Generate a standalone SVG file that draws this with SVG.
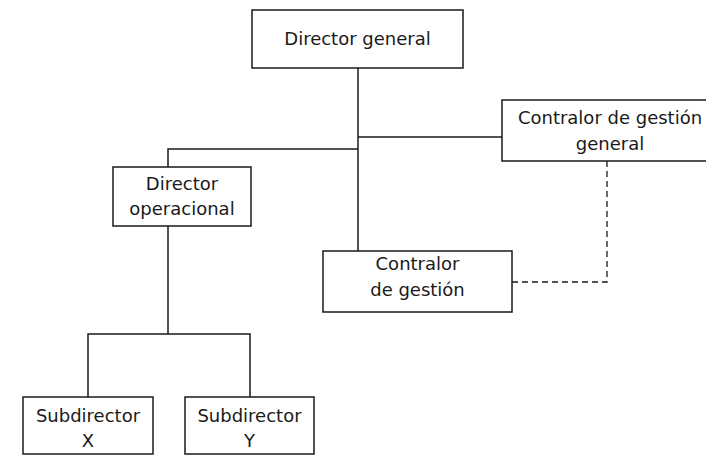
<svg xmlns="http://www.w3.org/2000/svg" width="706" height="459" viewBox="0 0 706 459">
<style>
.box{fill:#fff;stroke:#1a1a1a;stroke-width:1.5}
.ln{fill:none;stroke:#1a1a1a;stroke-width:1.5}
.dash{fill:none;stroke:#1a1a1a;stroke-width:1.3;stroke-dasharray:6 4}
text{font-family:"DejaVu Sans","Liberation Sans",sans-serif;font-size:18px;fill:#1a1a1a;text-anchor:middle}
</style>
<rect width="706" height="459" fill="#fff"/>
<g id="connectors">
<path class="ln" d="M358,68 V251"/>
<path class="ln" d="M358,137 H502"/>
<path class="ln" d="M358,149 H168 V167"/>
<path class="ln" d="M168,226 V334"/>
<path class="ln" d="M88,397 V334 H250 V397"/>
<path class="dash" d="M512,282 H607 V161"/>
</g>
<g id="director-general">
<rect class="box" x="252" y="10" width="211" height="58"/>
<text x="357.5" y="45">Director general</text>
</g>
<g id="contralor-general">
<rect class="box" x="502" y="100" width="216" height="61"/>
<text x="610" y="124">Contralor de gestión</text>
<text x="610" y="150">general</text>
</g>
<g id="director-operacional">
<rect class="box" x="113" y="167" width="138" height="59"/>
<text x="182" y="190">Director</text>
<text x="182" y="215">operacional</text>
</g>
<g id="contralor-gestion">
<rect class="box" x="323" y="251" width="189" height="61"/>
<text x="417.5" y="270">Contralor</text>
<text x="417.5" y="296">de gestión</text>
</g>
<g id="subdirector-x">
<rect class="box" x="23" y="397" width="130" height="57"/>
<text x="88" y="422">Subdirector</text>
<text x="88" y="447">X</text>
</g>
<g id="subdirector-y">
<rect class="box" x="185" y="397" width="129" height="57"/>
<text x="249.5" y="422">Subdirector</text>
<text x="249.5" y="447">Y</text>
</g>
</svg>
